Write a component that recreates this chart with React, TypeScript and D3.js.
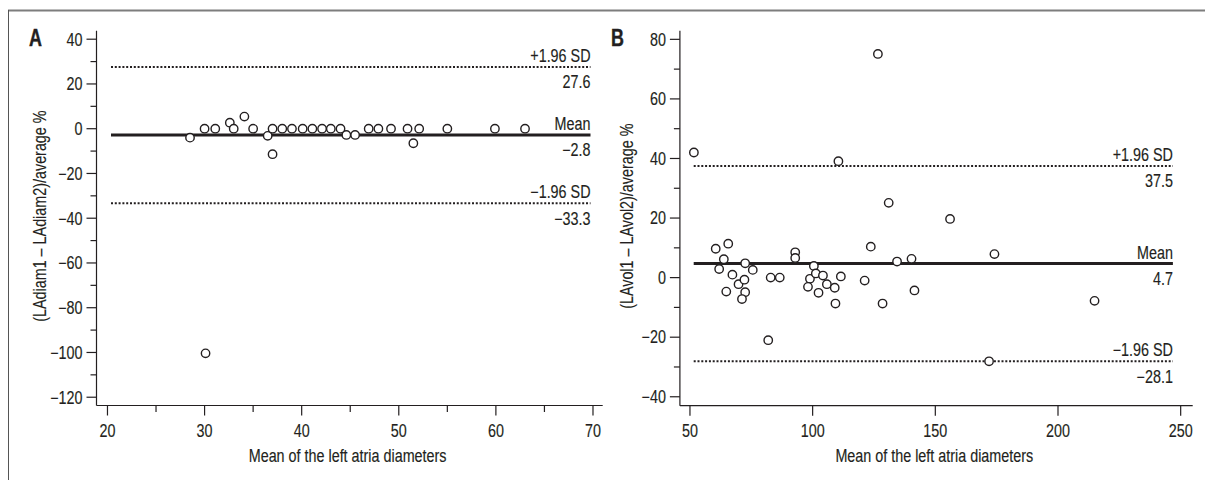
import React from "react";
import * as d3 from "d3";

// ---------- data ----------
const aX = [28.5, 30.0, 31.1, 32.6, 33.0, 34.1, 35.0, 36.5, 37.0, 37.0, 38.0, 39.0, 40.1, 41.1, 42.1, 43.0, 44.0, 44.6, 45.5, 46.9, 47.9, 49.2, 50.9, 52.1, 51.5, 55.0, 59.9, 63.0, 30.1];
const aY = [-4.0, 0, 0, 2.7, 0, 5.4, 0, -3.2, 0, -11.4, 0, 0, 0, 0, 0, 0, 0, -2.8, -2.8, 0, 0, 0, 0, 0, -6.5, 0, 0, 0, -100.4];

const bX = [51.6, 60.5, 65.6, 63.8, 61.9, 67.3, 64.8, 69.8, 72.5, 72.2, 72.5, 71.2, 75.6, 81.9, 82.9, 86.6, 92.9, 92.9, 100.5, 98.9, 98.1, 101.3, 104.2, 102.4, 105.8, 109.0, 109.3, 110.5, 111.5, 121.2, 123.7, 126.6, 128.5, 131.0, 134.4, 140.3, 141.5, 156.0, 171.9, 174.1, 214.9];
const bY = [42.0, 9.7, 11.4, 6.2, 2.9, 1.0, -4.7, -2.2, 4.8, -0.7, -4.9, -7.2, 2.6, -21.0, 0, 0, 8.5, 6.6, 3.9, -0.4, -3.1, 1.4, 0.7, -5.1, -2.2, -3.4, -8.7, 39.1, 0.4, -1.0, 10.4, 75.1, -8.7, 25.1, 5.4, 6.3, -4.3, 19.7, -28.1, 7.9, -7.8];

const aStats = [27.6, -2.8, -33.3]; // upper, mean, lower
const bStats = [37.5, 4.7, -28.1];
const statNames = ["+1.96 SD", "Mean", "\u22121.96 SD"];

const aXTicks = [20, 30, 40, 50, 60, 70];
const aXMinor = [25, 35, 45, 55, 65];
const aYTicks = [40, 20, 0, -20, -40, -60, -80, -100, -120];
const aYMinor = [30, 10, -10, -30, -50, -70, -90, -110];

const bXTicks = [50, 100, 150, 200, 250];
const bXMinor: number[] = [];
const bYTicks = [80, 60, 40, 20, 0, -20, -40];
const bYMinor = [70, 50, 30, 10, -10, -30];

const xTitle = "Mean of the left atria diameters";
const aYTitle = "(LAdiam1 \u2013 LAdiam2)/average %";
const bYTitle = "(LAvol1 \u2013 LAvol2)/average %";

// ---------- styling ----------
const FONT = "'Liberation Sans', Arial, sans-serif";
const INK = "#231f20";
const SX = 0.82; // horizontal condensing to mimic a condensed face
const FS = 17.5;

const fmt = (v: number) => (v < 0 ? "\u2212" + Math.abs(v) : String(v));
const fmtStat = (v: number) => (v < 0 ? "\u2212" + Math.abs(v).toFixed(1) : v.toFixed(1));

function T(props: {
  x: number;
  y: number;
  anchor?: "start" | "middle" | "end";
  size?: number;
  bold?: boolean;
  rotate?: number;
  sx?: number;
  children: React.ReactNode;
}) {
  const { x, y, anchor = "start", size = FS, bold = false, rotate = 0, sx = SX, children } = props;
  return (
    <text
      transform={`translate(${x},${y}) rotate(${rotate}) scale(${sx},1)`}
      textAnchor={anchor}
      fontFamily={FONT}
      fontWeight={bold ? "bold" : "normal"}
      fontSize={size}
      fill={INK}
      stroke={INK}
      strokeWidth={bold ? 0.4 : 0.15}
    >
      {children}
    </text>
  );
}

type PanelProps = {
  letter: string;
  xs: number[];
  ys: number[];
  stats: number[];
  xDomain: [number, number];
  yDomain: [number, number];
  xTickVals: number[];
  xMinorVals: number[];
  yTickVals: number[];
  yMinorVals: number[];
  left: number;
  right: number;
  top: number;
  bottom: number;
  lineStart: number;
  lineEnd: number;
  yTitle: string;
  yTitleX: number;
  letterX: number;
};

function Panel(p: PanelProps) {
  const x = d3.scaleLinear().domain(p.xDomain).range([p.left, p.right]);
  const y = d3.scaleLinear().domain(p.yDomain).range([p.top, p.bottom]);
  const mid = (p.top + p.bottom) / 2 - 2;
  return (
    <g>
      <T x={p.letterX} y={46} size={23} bold sx={0.78}>
        {p.letter}
      </T>
      {/* axes */}
      <line x1={p.left} x2={p.left} y1={p.top} y2={p.bottom} stroke={INK} strokeWidth={1.2} />
      <line x1={p.left} x2={p.right} y1={p.bottom} y2={p.bottom} stroke={INK} strokeWidth={1.2} />
      {p.yTickVals.map((v) => (
        <g key={"yt" + v}>
          <line x1={p.left - 10} x2={p.left} y1={y(v)} y2={y(v)} stroke={INK} strokeWidth={1.2} />
          <T x={p.left - 14} y={y(v) + 6.3} anchor="end">
            {fmt(v)}
          </T>
        </g>
      ))}
      {p.yMinorVals.map((v) => (
        <line key={"ym" + v} x1={p.left - 6} x2={p.left} y1={y(v)} y2={y(v)} stroke={INK} strokeWidth={1.2} />
      ))}
      {p.xTickVals.map((v) => (
        <g key={"xt" + v}>
          <line x1={x(v)} x2={x(v)} y1={p.bottom} y2={p.bottom + 10} stroke={INK} strokeWidth={1.2} />
          <T x={x(v)} y={p.bottom + 31.5} anchor="middle">
            {fmt(v)}
          </T>
        </g>
      ))}
      {p.xMinorVals.map((v) => (
        <line key={"xm" + v} x1={x(v)} x2={x(v)} y1={p.bottom} y2={p.bottom + 6.5} stroke={INK} strokeWidth={1.2} />
      ))}
      {/* titles */}
      <T x={(p.left + p.right) / 2 - 2} y={p.bottom + 56.5} anchor="middle">
        {xTitle}
      </T>
      <T x={p.yTitleX + 6} y={mid} anchor="middle" rotate={-90}>
        {p.yTitle}
      </T>
      {/* limit lines */}
      {p.stats.map((s, i) => (
        <g key={"s" + i}>
          <line
            x1={p.lineStart}
            x2={p.lineEnd}
            y1={y(s)}
            y2={y(s)}
            stroke={INK}
            strokeWidth={i === 1 ? 3 : 2}
            strokeDasharray={i === 1 ? undefined : "2,1.8"}
          />
          <T x={p.lineEnd} y={y(s) - 5} anchor="end">
            {statNames[i]}
          </T>
          <T x={p.lineEnd} y={y(s) + 21.5} anchor="end">
            {fmtStat(s)}
          </T>
        </g>
      ))}
      {/* points */}
      {p.xs.map((v, i) => (
        <circle key={"p" + i} cx={x(v)} cy={y(p.ys[i])} r={4.2} fill="#fff" stroke={INK} strokeWidth={1.4} />
      ))}
    </g>
  );
}

export default function App() {
  return (
    <svg
      width={1205}
      height={480}
      style={{ position: "absolute", left: 0, top: 0, background: "#fff" }}
    >
      <rect x={0} y={0} width={1205} height={480} fill="#fff" />
      <line x1={8} x2={1205} y1={10.5} y2={10.5} stroke="#7d7d7d" strokeWidth={2} />
      <line x1={8.5} x2={8.5} y1={10} y2={480} stroke="#555" strokeWidth={1} />
      <Panel
        letter="A"
        xs={aX}
        ys={aY}
        stats={aStats}
        xDomain={[18.87, 71.0]}
        yDomain={[43.8, -123.7]}
        xTickVals={aXTicks}
        xMinorVals={aXMinor}
        yTickVals={aYTicks}
        yMinorVals={aYMinor}
        left={96.5}
        right={602.7}
        top={30.7}
        bottom={405.5}
        lineStart={111}
        lineEnd={590.5}
        yTitle={aYTitle}
        yTitleX={40}
        letterX={29}
      />
      <Panel
        letter="B"
        xs={bX}
        ys={bY}
        stats={bStats}
        xDomain={[45.9, 254.9]}
        yDomain={[82.9, -43.0]}
        xTickVals={bXTicks}
        xMinorVals={bXMinor}
        yTickVals={bYTicks}
        yMinorVals={bYMinor}
        left={679.9}
        right={1192.7}
        top={30.7}
        bottom={405.7}
        lineStart={693.7}
        lineEnd={1172.9}
        yTitle={bYTitle}
        yTitleX={627}
        letterX={611}
      />
    </svg>
  );
}
